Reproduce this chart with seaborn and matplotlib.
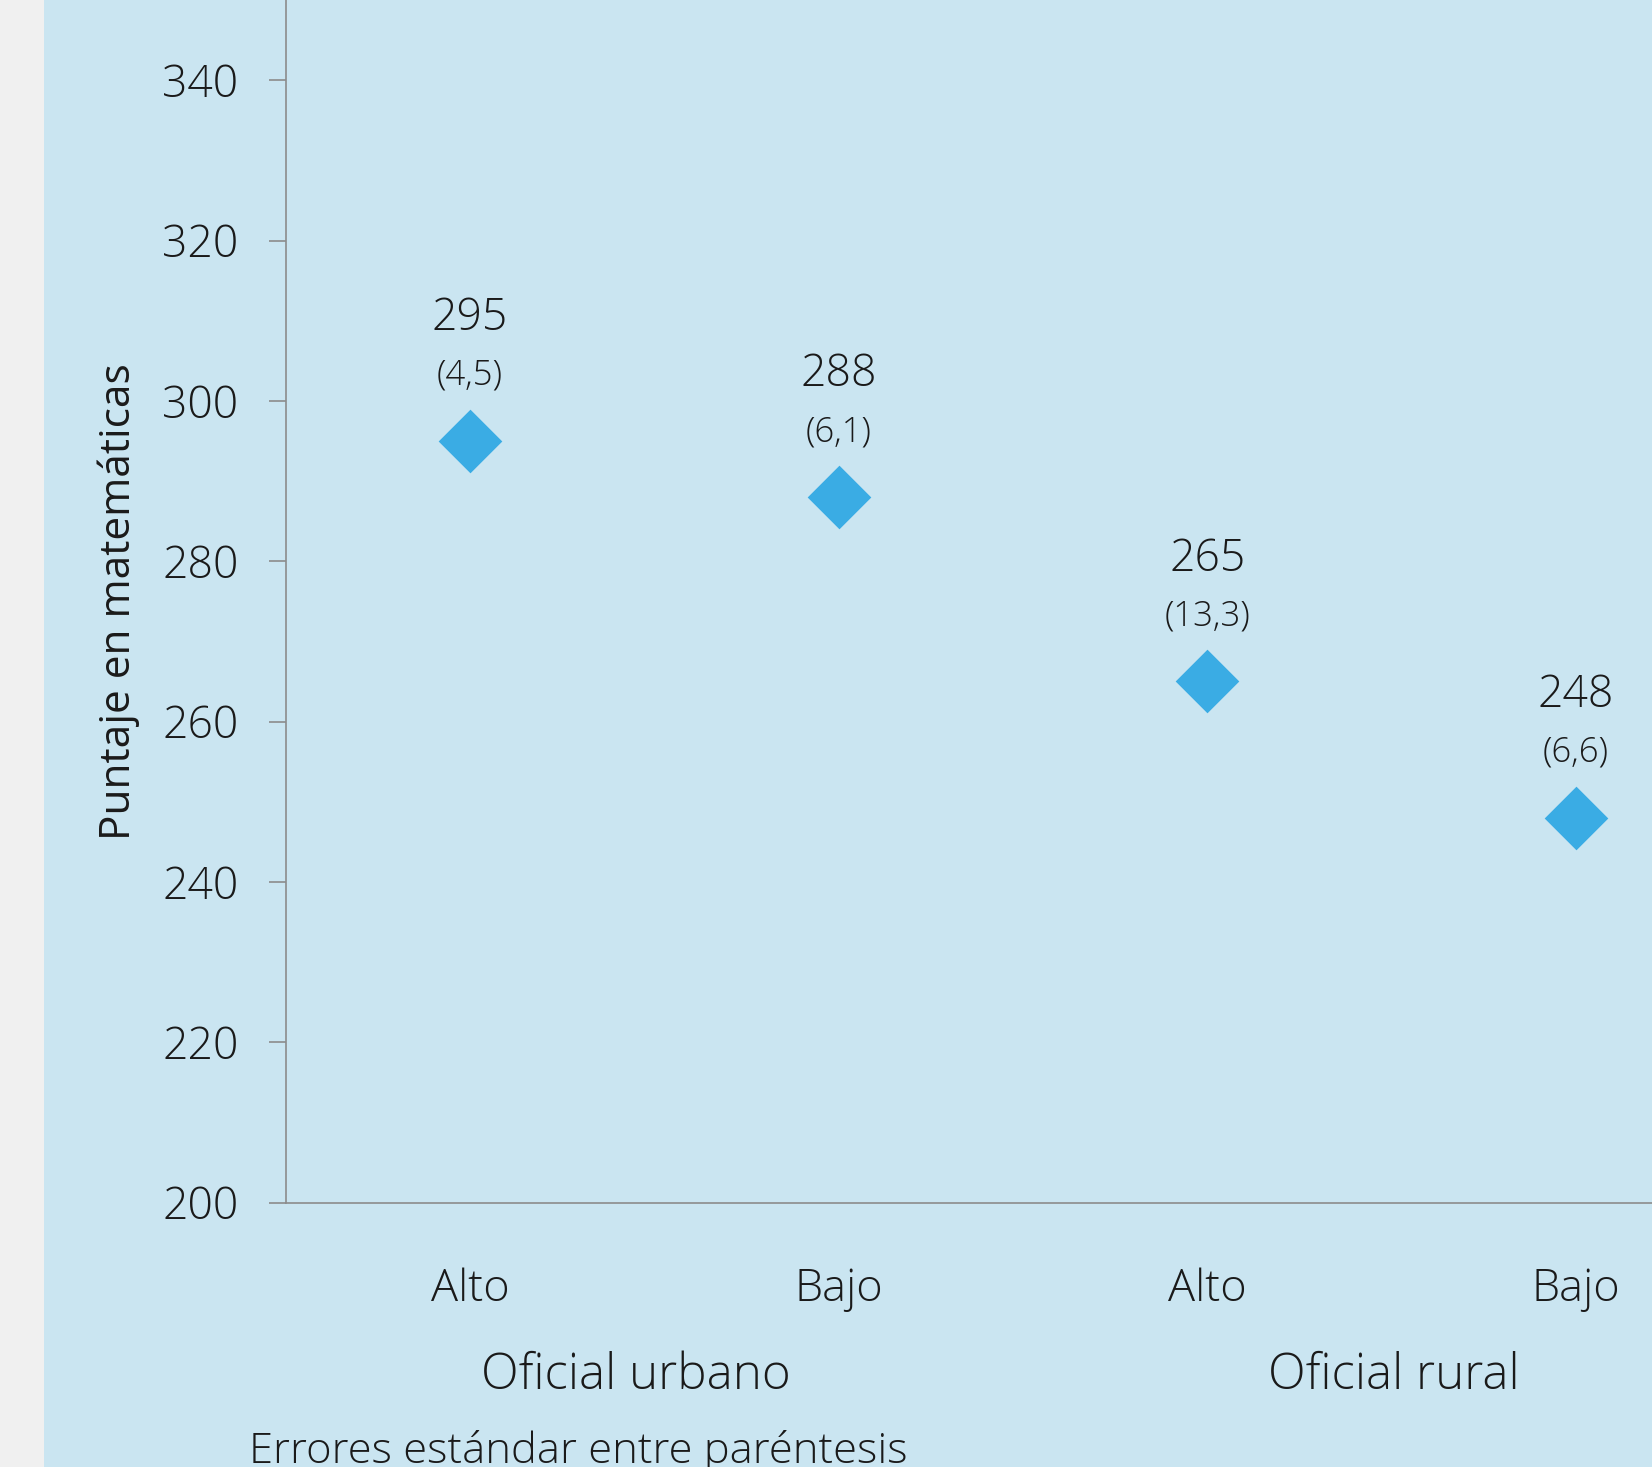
import matplotlib
matplotlib.use("Agg")
import matplotlib.pyplot as plt
import matplotlib.transforms as mtransforms
import seaborn as sns
import pandas as pd
from matplotlib.patches import Rectangle

# ---- data ----
levels = ["Alto", "Bajo", "Alto", "Bajo"]
groups = ["Oficial urbano", "Oficial rural"]
scores = [295, 288, 265, 248]
std_errors = ["(4,5)", "(6,1)", "(13,3)", "(6,6)"]
y_ticks = [200, 220, 240, 260, 280, 300, 320, 340]
y_label = "Puntaje en matemáticas"
footnote = "Errores estándar entre paréntesis"

BG = "#cae5f1"
STRIP = "#f0f0f0"
MARK = "#3aace4"
AXC = "#8c8c8c"
TXT = "#1a1a1a"

sns.set_theme(style="white")
plt.rcParams["font.family"] = ["Open Sans", "DejaVu Sans"]
plt.rcParams["font.weight"] = "light"

W, H = 1652, 1467
fig = plt.figure(figsize=(W / 100, H / 100), dpi=100, facecolor=BG)
fig.patches.append(Rectangle((0, 0), 44 / W, 1, transform=fig.transFigure,
                             facecolor=STRIP, edgecolor="none", zorder=0))

ax = fig.add_axes([285.6 / W, 1 - 1202.6 / H, (W - 285.6) / W, 1202.6 / H])
ax.set_facecolor(BG)

df = pd.DataFrame({"pos": list(range(len(scores))), "score": scores})
sns.scatterplot(data=df, x="pos", y="score", marker="D", s=1050, color=MARK,
                linewidth=0, ax=ax, zorder=3, legend=False)

for i, (v, se) in enumerate(zip(scores, std_errors)):
    ax.annotate(str(v), (i, v), xytext=(0, 88), textcoords="offset points",
                ha="center", va="center", fontsize=32, color=TXT)
    ax.annotate(se, (i, v), xytext=(0, 47), textcoords="offset points",
                ha="center", va="center", fontsize=25, color=TXT)

ax.set_xlim(-0.5, 3.206)
ax.set_ylim(200, 350)
ax.set_yticks(y_ticks)
ax.set_yticklabels([str(t) for t in y_ticks])
ax.set_xticks(range(len(levels)))
ax.set_xticklabels(levels)
ax.set_xlabel("")
ax.set_ylabel(y_label, fontsize=30.5, color=TXT, va="center")
ax.yaxis.set_label_coords(-0.122, 0.5)

ax.tick_params(axis="y", direction="out", length=12, width=1.2, color=AXC,
               pad=22, labelsize=32, labelcolor=TXT, left=True)
ax.tick_params(axis="x", length=0, pad=47, labelsize=32.5, labelcolor=TXT)

for s in ["top", "right"]:
    ax.spines[s].set_visible(False)
for s in ["left", "bottom"]:
    ax.spines[s].set_color(AXC)
    ax.spines[s].set_linewidth(1.2)

# group labels
group_x = [0.451, 2.506]
blend = mtransforms.blended_transform_factory(ax.transData, fig.transFigure)
for gx, g in zip(group_x, groups):
    ax.text(gx, 1 - 1376 / H, g, transform=blend,
            ha="center", va="center", fontsize=35.5, color=TXT)

fig.text(249 / W, 1 - 1430 / H, footnote, ha="left", va="top", fontsize=31.3, color=TXT)

fig.savefig("out.png", dpi=100, facecolor=BG)
